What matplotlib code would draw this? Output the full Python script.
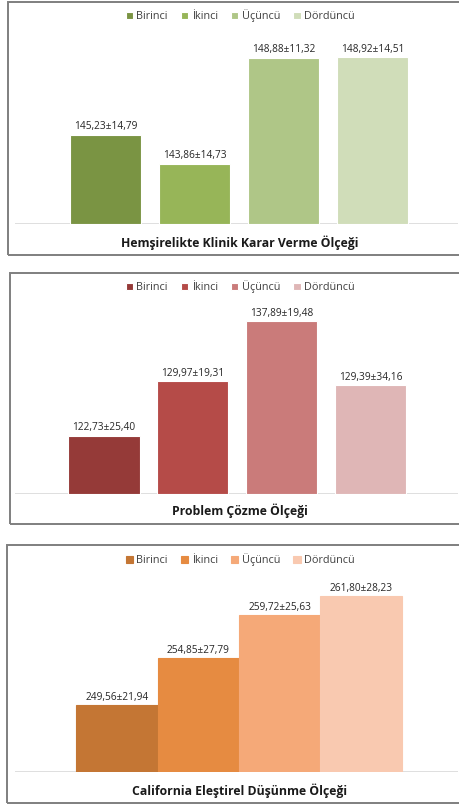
import matplotlib.pyplot as plt
from matplotlib.patches import Rectangle

plt.rcParams['font.family'] = ['Open Sans', 'DejaVu Sans']

series = ['Birinci', 'İkinci', 'Üçüncü', 'Dördüncü']

titles = ['Hemşirelikte Klinik Karar Verme Ölçeği',
          'Problem Çözme Ölçeği',
          'California Eleştirel Düşünme Ölçeği']

kkv_means = [145.23, 143.86, 148.88, 148.92]
kkv_labels = ['145,23±14,79', '143,86±14,73', '148,88±11,32', '148,92±14,51']

pc_means = [122.73, 129.97, 137.89, 129.39]
pc_labels = ['122,73±25,40', '129,97±19,31', '137,89±19,48', '129,39±34,16']

ced_means = [249.56, 254.85, 259.72, 261.80]
ced_labels = ['249,56±21,94', '254,85±27,79', '259,72±25,63', '261,80±28,23']

greens = ['#7A9443', '#97B558', '#AFC687', '#D0DDB9']
reds = ['#953A38', '#B54B48', '#CA7B7A', '#DFB6B6']
oranges = ['#C47634', '#E68B41', '#F5A978', '#F9C9B0']

W, H = 459, 805
fig = plt.figure(figsize=(W / 100, H / 100), dpi=100)


def px(x0, y0, x1, y1):
    # pixel box (top-left origin) -> figure fraction
    return [x0 / W, 1 - y1 / H, (x1 - x0) / W, (y1 - y0) / H]


panels = [
    # values, labels, colors, frame, axes box, ylim, xlim, bar width, legend y, title y
    (kkv_means, kkv_labels, greens, (8, 2, 475, 255), (15, 34, 458, 224), (141, 150),
     (-1.017, 3.96), 0.8, 16, 243),
    (pc_means, pc_labels, reds, (10, 273, 475, 524), (15, 305, 458, 494), (115, 140),
     (-1.0, 3.98), 0.8, 287, 511),
    (ced_means, ced_labels, oranges, (7, 545, 475, 803), (15, 577, 458, 772), (242, 264),
     (-1.25, 4.19), 1.0, 560, 791),
]

for title, (vals, labs, cols, frame, box, ylim, xlim, bw, leg_y, title_y) in zip(titles, panels):
    fx0, fy0, fx1, fy1 = frame
    fig.patches.append(Rectangle((fx0 / W, 1 - fy1 / H), (fx1 - fx0) / W, (fy1 - fy0) / H,
                                 transform=fig.transFigure, fill=False,
                                 edgecolor='#7F7F7F', linewidth=1.4))
    ax = fig.add_axes(px(*box))
    handles = []
    for i, (v, lab, c) in enumerate(zip(vals, labs, cols)):
        b = ax.bar(i, v - ylim[0], bottom=ylim[0], width=bw, color=c,
                   edgecolor='white' if bw < 1 else c, linewidth=0.8)
        handles.append(b)
        ax.text(i, v + (ylim[1] - ylim[0]) * 0.012, lab, ha='center', va='bottom',
                fontsize=7.3, color='#262626')
    ax.set_ylim(*ylim)
    ax.set_xlim(*xlim)
    ax.axis('off')
    ax.axhline(ylim[0], color='#D9D9D9', linewidth=1.2, zorder=0)

    fig.legend(handles=handles, labels=series, loc='center',
               bbox_to_anchor=(240 / W, 1 - leg_y / H), ncol=4, frameon=False,
               fontsize=7.8, handlelength=0.7, handleheight=0.7, handletextpad=0.3,
               columnspacing=1.2, labelcolor='#404040')
    fig.text(240 / W, 1 - title_y / H, title, ha='center', va='center',
             fontsize=8.8, fontweight='bold', color='#1A1A1A')

fig.savefig('out.png', dpi=100, facecolor='white')
